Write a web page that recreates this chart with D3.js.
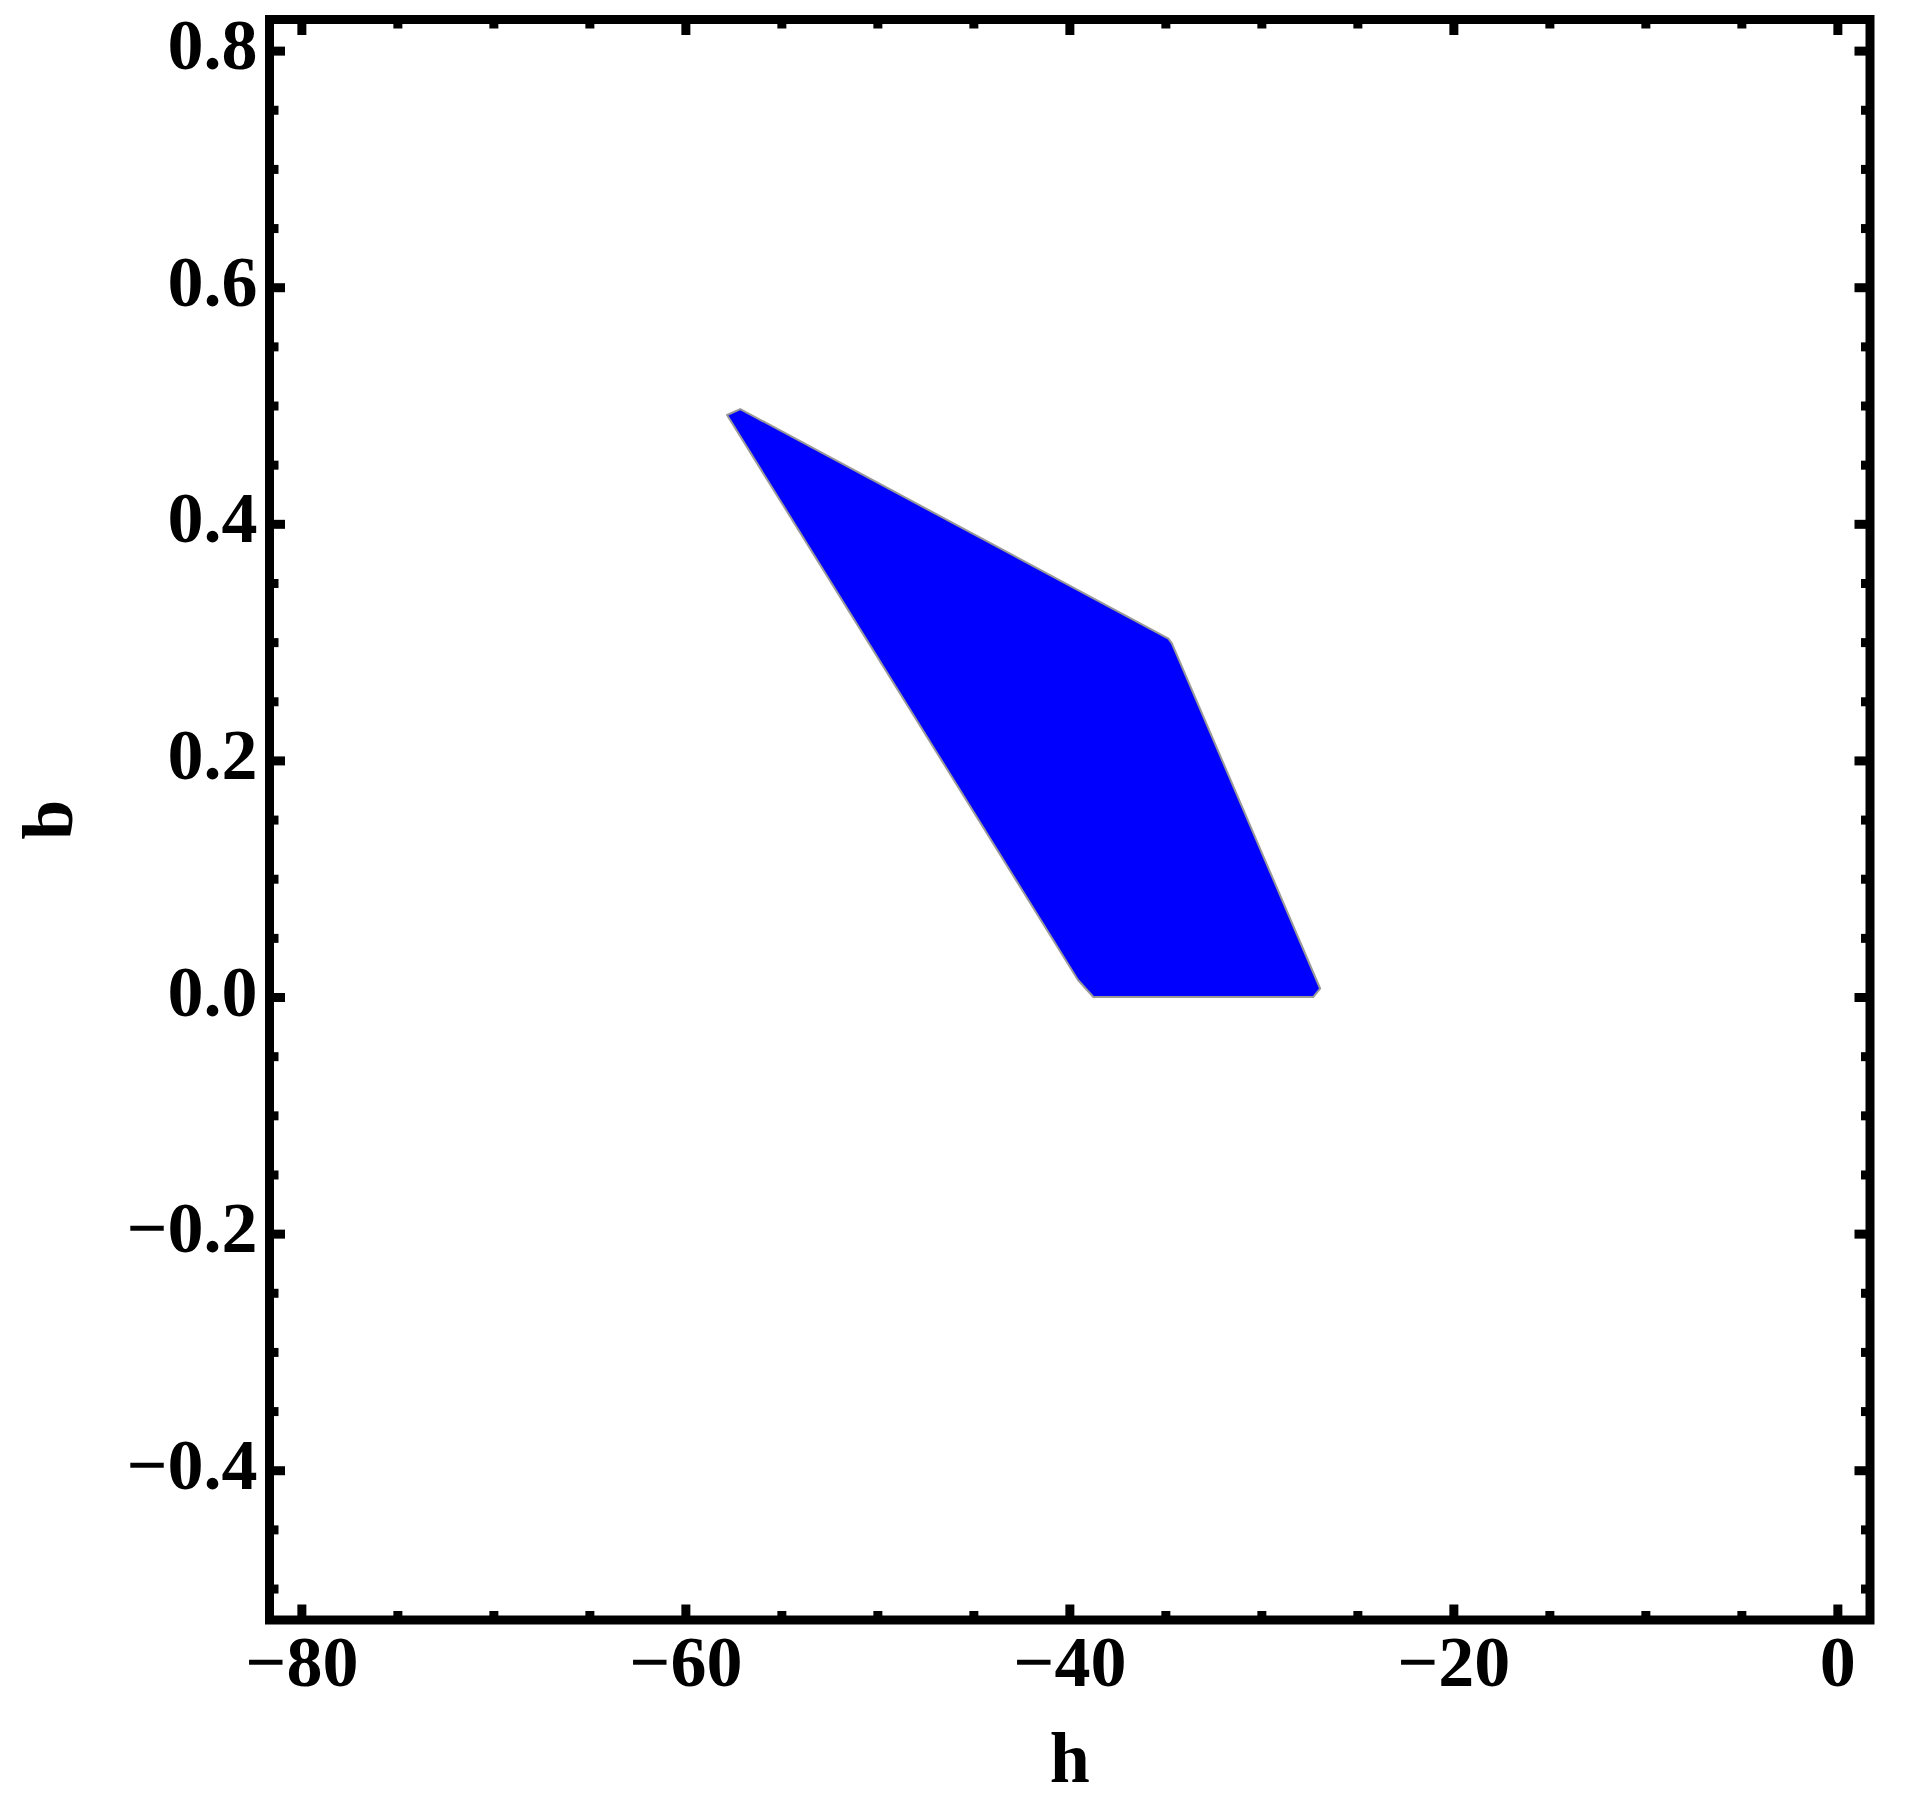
<!DOCTYPE html>
<html>
<head>
<meta charset="utf-8">
<script src="https://cdn.jsdelivr.net/npm/d3@7"></script>
<style>
  body { margin: 0; background: #fff; }
  text { font-family: "Liberation Serif", "Times New Roman", serif; font-weight: bold; }
</style>
</head>
<body>
<svg id="chart"></svg>
<script>
// Region outline (h, b)
const regionH = [-57.83, -57.14, -34.84, -34.66, -26.94, -27.30, -38.75, -39.55];
const regionB = [0.492, 0.497, 0.303, 0.299, 0.0072, 0.0, 0.0, 0.0144];

// Ticks
const xMajor = [-80, -60, -40, -20, 0];
const xMinor = d3.range(-80, 1, 5).filter(v => !xMajor.includes(v));
const yMajor = [-0.4, -0.2, 0.0, 0.2, 0.4, 0.6, 0.8];
const yMinor = d3.range(-0.5, 0.81, 0.05).map(v => Math.round(v * 100) / 100)
    .filter(v => !yMajor.some(m => Math.abs(m - v) < 1e-9));

const xDomain = [-81.66, 1.70];
const yDomain = [-0.5266, 0.8263];

const W = 1915, H = 1817;
const plotLeft = 269.5, plotRight = 1870, plotTop = 19.5, plotBottom = 1620;

const svg = d3.select("#chart")
    .attr("width", W)
    .attr("height", H);

const x = d3.scaleLinear().domain(xDomain).range([plotLeft, plotRight]);
const y = d3.scaleLinear().domain(yDomain).range([plotBottom, plotTop]);

// Filled region
const pts = regionH.map((h, i) => [x(h), y(regionB[i])]);
svg.append("path")
    .attr("d", d3.line()(pts) + "Z")
    .attr("fill", "#0000ff")
    .attr("stroke", "#999999")
    .attr("stroke-width", 2)
    .attr("stroke-linejoin", "round");

const majorLen = 15.5, minorLen = 9, tickW = 9;

function styleAxis(g) {
    g.select(".domain").remove();
    g.selectAll(".tick line").attr("stroke", "black").attr("stroke-width", tickW);
}

// Bottom axis with labels
svg.append("g")
    .attr("transform", `translate(0,${plotBottom})`)
    .call(d3.axisBottom(x).tickValues(xMajor).tickSize(-majorLen).tickFormat(d3.format("d")))
    .call(styleAxis)
    .call(g => g.selectAll("text")
        .attr("y", 66).attr("dy", 0)
        .attr("font-size", 72).attr("fill", "black"));
svg.append("g")
    .attr("transform", `translate(0,${plotBottom})`)
    .call(d3.axisBottom(x).tickValues(xMinor).tickSize(-minorLen).tickFormat(""))
    .call(styleAxis);

// Top axis, ticks only
svg.append("g")
    .attr("transform", `translate(0,${plotTop})`)
    .call(d3.axisTop(x).tickValues(xMajor).tickSize(-majorLen).tickFormat(""))
    .call(styleAxis);
svg.append("g")
    .attr("transform", `translate(0,${plotTop})`)
    .call(d3.axisTop(x).tickValues(xMinor).tickSize(-minorLen).tickFormat(""))
    .call(styleAxis);

// Left axis with labels
svg.append("g")
    .attr("transform", `translate(${plotLeft},0)`)
    .call(d3.axisLeft(y).tickValues(yMajor).tickSize(-majorLen).tickFormat(d3.format(".1f")))
    .call(styleAxis)
    .call(g => g.selectAll("text")
        .attr("x", -12).attr("dy", 18)
        .attr("font-size", 72).attr("fill", "black"));
svg.append("g")
    .attr("transform", `translate(${plotLeft},0)`)
    .call(d3.axisLeft(y).tickValues(yMinor).tickSize(-minorLen).tickFormat(""))
    .call(styleAxis);

// Right axis, ticks only
svg.append("g")
    .attr("transform", `translate(${plotRight},0)`)
    .call(d3.axisRight(y).tickValues(yMajor).tickSize(-majorLen).tickFormat(""))
    .call(styleAxis);
svg.append("g")
    .attr("transform", `translate(${plotRight},0)`)
    .call(d3.axisRight(y).tickValues(yMinor).tickSize(-minorLen).tickFormat(""))
    .call(styleAxis);

// Frame
svg.append("rect")
    .attr("x", plotLeft).attr("y", plotTop)
    .attr("width", plotRight - plotLeft).attr("height", plotBottom - plotTop)
    .attr("fill", "none")
    .attr("stroke", "black")
    .attr("stroke-width", tickW);

// Axis labels
svg.append("text")
    .attr("x", (plotLeft + plotRight) / 2)
    .attr("y", 1782)
    .attr("text-anchor", "middle")
    .attr("font-size", 72)
    .text("h");

svg.append("text")
    .attr("transform", `translate(72,${(plotTop + plotBottom) / 2}) rotate(-90)`)
    .attr("text-anchor", "middle")
    .attr("font-size", 72)
    .text("b");
</script>
</body>
</html>
